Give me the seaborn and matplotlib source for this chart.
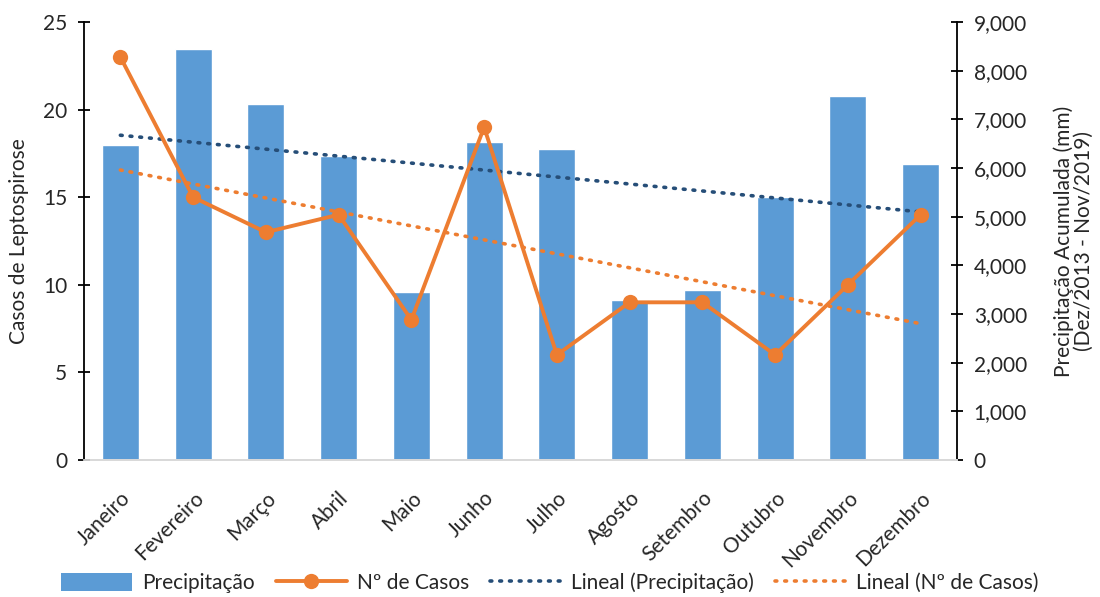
import numpy as np
import pandas as pd
import seaborn as sns
import matplotlib.pyplot as plt
from matplotlib.patches import Patch
from matplotlib.lines import Line2D

# data
months = ['Janeiro', 'Fevereiro', 'Março', 'Abril', 'Maio', 'Junho',
          'Julho', 'Agosto', 'Setembro', 'Outubro', 'Novembro', 'Dezembro']
precip = [6480, 8450, 7320, 6250, 3450, 6540, 6390, 3290, 3500, 5400, 7480, 6080]
cases = [23, 15, 13, 14, 8, 19, 6, 9, 9, 6, 10, 14]

bar_color = '#5B9BD5'
line_color = '#ED7D31'
trend_blue = '#264E78'
fs = 15

sns.set_style("white")
plt.rcParams['font.family'] = ['Lato', 'DejaVu Sans']
plt.rcParams['font.size'] = fs

df = pd.DataFrame({'month': months, 'precip': precip, 'cases': cases})
df['pos'] = np.arange(len(months))

fig = plt.figure(figsize=(11, 5.97), dpi=100)
ax = fig.add_axes([84 / 1100, 1 - 460 / 597, (957 - 84) / 1100, 438 / 597])
ax2 = ax.twinx()

# bars on the secondary (right) axis, drawn below the line axis
sns.barplot(data=df, x='pos', y='precip', ax=ax2, color=bar_color,
            width=0.51, saturation=1, native_scale=True)
# linear trend of precipitation
p_fit = np.polyfit(df['pos'], df['precip'], 1)
ax2.plot(df['pos'], np.polyval(p_fit, df['pos']), color=trend_blue,
         linestyle=(0, (0.5, 2.2)), linewidth=2.6, dash_capstyle='round')

# cases line on the primary (left) axis
c_fit = np.polyfit(df['pos'], df['cases'], 1)
ax.plot(df['pos'], np.polyval(c_fit, df['pos']), color=line_color,
        linestyle=(0, (0.5, 2.2)), linewidth=2.6, dash_capstyle='round')
sns.lineplot(data=df, x='pos', y='cases', ax=ax, color=line_color,
             linewidth=2.8, marker='o', markersize=11, markeredgewidth=0)

ax.set_zorder(2)
ax.patch.set_visible(False)
ax2.set_zorder(1)

ax.set_xlim(-0.5, 11.5)
ax.set_ylim(0, 25)
ax.set_yticks(range(0, 26, 5))
ax2.set_ylim(0, 9000)
ax2.set_yticks(range(0, 9001, 1000))
ax2.set_yticklabels([f'{v:,}' for v in range(0, 9001, 1000)])

ax.set_xticks(df['pos'])
ax.set_xticklabels(months, rotation=45, ha='right', rotation_mode='anchor')
ax.tick_params(axis='x', length=0, pad=20, labelsize=fs)
ax.tick_params(axis='y', direction='inout', length=8, width=1.3, color='black',
               labelsize=fs, pad=8)
ax2.tick_params(axis='y', direction='inout', length=8, width=1.3, color='black',
                labelsize=fs, pad=8)
ax2.set_xlabel('')
ax.set_xlabel('')

ax.set_ylabel('Casos de Leptospirose', labelpad=10, fontsize=fs)
ax2.set_ylabel('Precipitação Acumulada (mm)\n(Dez/2013 - Nov/2019)', labelpad=19,
               fontsize=fs, linespacing=1.0)

for a in (ax, ax2):
    a.spines['top'].set_visible(False)
    a.spines['bottom'].set_color('#D9D9D9')
    a.spines['bottom'].set_linewidth(1.3)
ax.spines['right'].set_visible(False)
ax.spines['left'].set_color('black')
ax.spines['left'].set_linewidth(1.3)
ax2.spines['left'].set_visible(False)
ax2.spines['right'].set_color('black')
ax2.spines['right'].set_linewidth(1.3)

handles = [
    Patch(facecolor=bar_color, edgecolor='none'),
    Line2D([], [], color=line_color, linewidth=2.8, marker='o', markersize=11, markeredgewidth=0),
    Line2D([], [], color=trend_blue, linestyle=(0, (0.5, 2.2)), linewidth=2.6, dash_capstyle='round'),
    Line2D([], [], color=line_color, linestyle=(0, (0.5, 2.2)), linewidth=2.6, dash_capstyle='round'),
]
labels = ['Precipitação', 'Nº de Casos', 'Lineal (Precipitação)', 'Lineal (Nº de Casos)']
fig.legend(handles, labels, loc='lower center', bbox_to_anchor=(0.5, -0.025), ncol=4,
           frameon=False, handlelength=3.4, handleheight=1.0, columnspacing=1.0,
           handletextpad=0.5, fontsize=fs)

fig.savefig('out.png', dpi=100)
plt.close(fig)
